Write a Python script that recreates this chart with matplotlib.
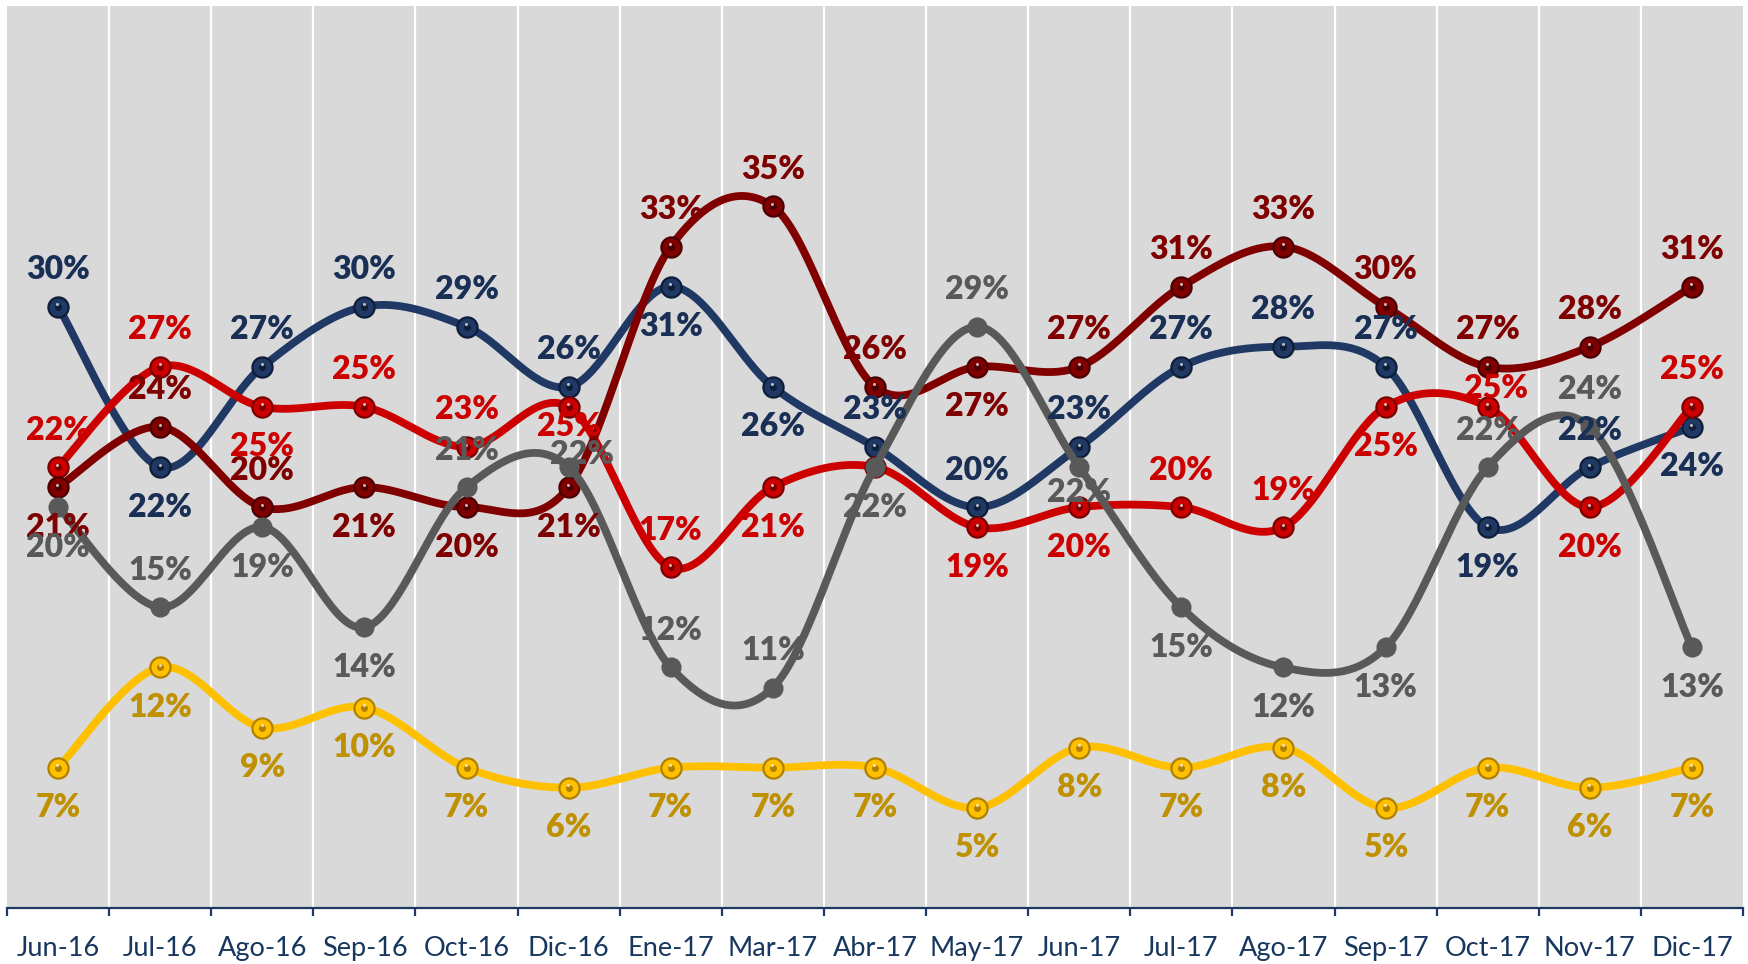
import matplotlib
matplotlib.use("Agg")
import matplotlib.pyplot as plt
import numpy as np

# Categories (months) and series values in percent
months = ["Jun-16", "Jul-16", "Ago-16", "Sep-16", "Oct-16", "Dic-16", "Ene-17",
          "Mar-17", "Abr-17", "May-17", "Jun-17", "Jul-17", "Ago-17", "Sep-17",
          "Oct-17", "Nov-17", "Dic-17"]

navy_vals = [30, 22, 27, 30, 29, 26, 31, 26, 23, 20, 23, 27, 28, 27, 19, 22, 24]
red_vals = [22, 27, 25, 25, 23, 25, 17, 21, 22, 19, 20, 20, 19, 25, 25, 20, 25]
maroon_vals = [21, 24, 20, 21, 20, 21, 33, 35, 26, 27, 27, 31, 33, 30, 27, 28, 31]
gray_vals = [20, 15, 19, 14, 21, 22, 12, 11, 22, 29, 22, 15, 12, 13, 22, 24, 13]
gold_vals = [7, 12, 9, 10, 7, 6, 7, 7, 7, 5, 8, 7, 8, 5, 7, 6, 7]

# label placement per point: 'a' above, 'b' below, None = hidden
navy_pos = list("abaaaabbaaaaaabab")
red_pos = ["a", "a", "b", "a", "a", "b", "a", "b", None, "b", "b", "a", "a", "b", "a", "b", "a"]
maroon_pos = list("baabbbaaabaaaaaaa")
gray_pos = list("babbaaaababbbbaab")
gold_pos = list("bbbbbbbbbbbbbbbbb")

# (series, index) -> (dx px, dy px, screen down positive) for labels hugging their marker
label_nudge = {
    ("red", 5): (0, 20),
    ("gray", 5): (13, -13),
    ("red", 14): (8, -18),
    ("gray", 10): (0, 25),
}

series = [
    # name, values, positions, line colour, edge colour, label colour, shiny marker
    ("navy", navy_vals, navy_pos, "#1F3864", "#0E1D38", "#1A2F55", True),
    ("red", red_vals, red_pos, "#CC0000", "#7A0000", "#CC0000", True),
    ("maroon", maroon_vals, maroon_pos, "#800000", "#4A0000", "#7F0000", True),
    ("gray", gray_vals, gray_pos, "#595959", "#595959", "#595959", False),
    ("gold", gold_vals, gold_pos, "#FFC000", "#B08000", "#BF9000", True),
]


def smooth_curve(x, y, steps=40):
    # Excel-like smoothed line: cubic Bezier segments with Catmull-Rom handles
    pts = np.column_stack([x, y]).astype(float)
    xs, ys = [], []
    t = np.linspace(0, 1, steps)[:, None]
    for i in range(len(pts) - 1):
        p0 = pts[i - 1] if i > 0 else pts[i]
        p1 = pts[i]
        p2 = pts[i + 1]
        p3 = pts[i + 2] if i + 2 < len(pts) else pts[i + 1]
        c1 = p1 + (p2 - p0) / 6.0
        c2 = p2 - (p3 - p1) / 6.0
        seg = ((1 - t) ** 3) * p1 + 3 * ((1 - t) ** 2) * t * c1 + 3 * (1 - t) * t ** 2 * c2 + t ** 3 * p2
        xs.extend(seg[:, 0])
        ys.extend(seg[:, 1])
    return np.array(xs), np.array(ys)


fig = plt.figure(figsize=(17.48, 9.64), dpi=100)
ax = fig.add_axes([7 / 1748, 1 - 908 / 964, (1743 - 7) / 1748, (908 - 6) / 964])
ax.set_facecolor("#D9D9D9")

x = np.arange(len(months))
ax.set_xlim(-0.5, len(months) - 0.5)
ax.set_ylim(0, 45)

# white vertical separators between categories
for b in np.arange(0.5, len(months) - 0.5, 1.0):
    ax.axvline(b, color="white", lw=1.6, zorder=1)

for k, (name, vals, pos, col, edge, lcol, shiny) in enumerate(series):
    sx, sy = smooth_curve(x, vals)
    z = 3 + k
    ax.plot(sx, sy, color=col, lw=5.6, solid_capstyle="round", zorder=z)
    if shiny:
        ax.plot(x, vals, ls="none", marker="o", ms=14.5, mfc=col, mec=edge, mew=1.6, zorder=z + 0.1)
        ax.plot(x, vals, ls="none", marker="o", ms=5, mfc=edge, mec="none", zorder=z + 0.2)
        ax.plot(x - 0.006, np.array(vals) + 0.12, ls="none", marker="o", ms=2.2,
                mfc="white", mec="none", alpha=0.7, zorder=z + 0.3)
    else:
        ax.plot(x, vals, ls="none", marker="o", ms=13.5, mfc=col, mec=col, zorder=z + 0.1)

    for i, v in enumerate(vals):
        p = pos[i]
        if p is None:
            continue
        dx, down = 0, (-37 if p == "a" else 40)
        if (name, i) in label_nudge:
            dx, down = label_nudge[(name, i)]
        ax.annotate(f"{v}%", (x[i], v), xytext=(dx * 0.72, -down * 0.72),
                    textcoords="offset points", ha="center", va="center",
                    fontsize=23, fontweight="heavy", family="Lato",
                    color=lcol, zorder=20)

# axes styling
for s in ["top", "right", "left"]:
    ax.spines[s].set_visible(False)
ax.spines["bottom"].set_color("#1F3864")
ax.spines["bottom"].set_linewidth(1.6)
ax.set_yticks([])
ax.set_xticks(np.arange(-0.5, len(months), 1.0), minor=False)
ax.set_xticklabels([])
ax.tick_params(axis="x", which="major", length=6, width=1.6, color="#1F3864", direction="out")
ax.set_xticks(x, minor=True)
ax.set_xticklabels(months, minor=True, fontsize=19.5, family="Lato", color="#17375E")
ax.tick_params(axis="x", which="minor", length=0, pad=20)

fig.savefig("out.png", dpi=100, facecolor="white")
